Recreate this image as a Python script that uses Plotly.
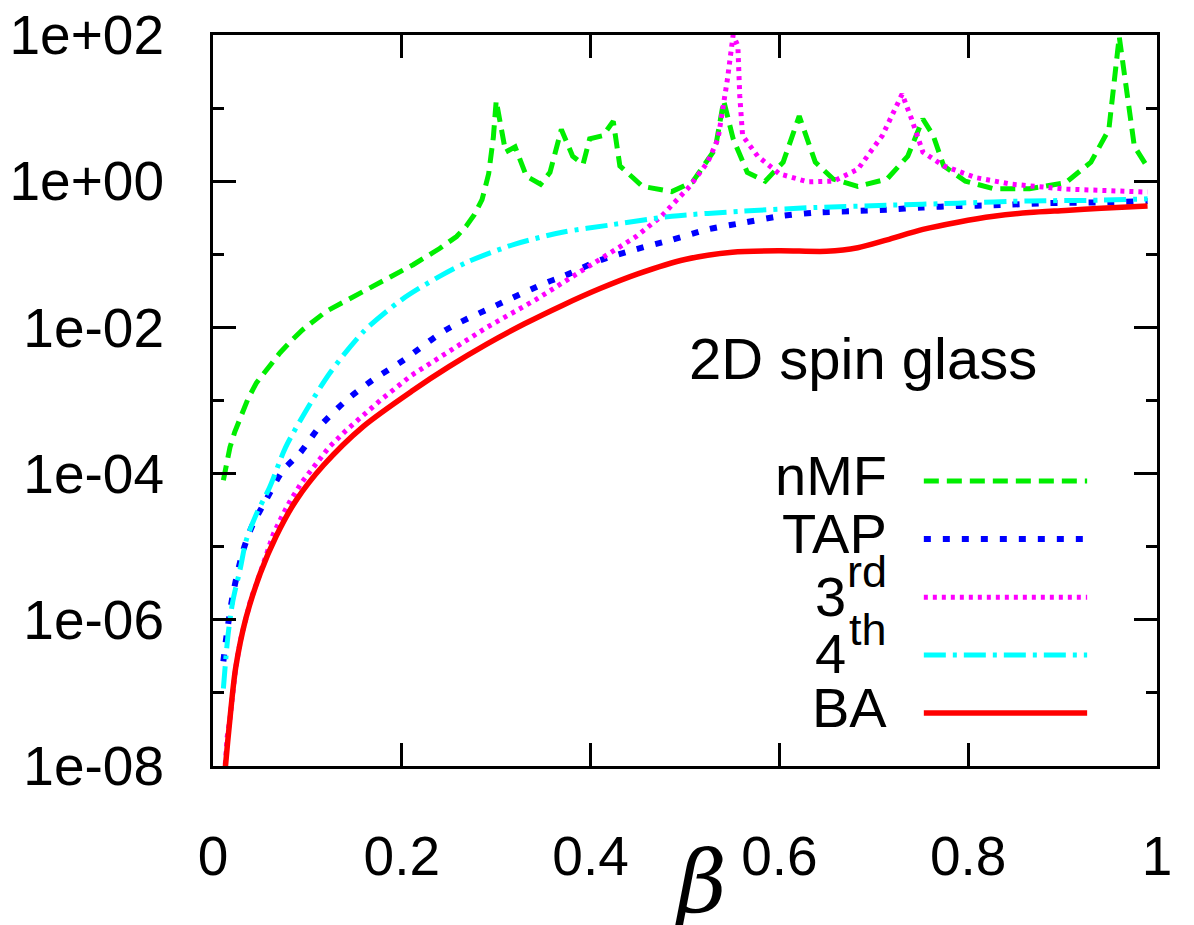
import plotly.graph_objects as go

# ---- data: beta values and the corresponding error measure for each method ----
nmf_beta = [0.011, 0.014, 0.018, 0.023, 0.029, 0.037, 0.046, 0.058, 0.071, 0.083,
            0.095, 0.120, 0.151, 0.180, 0.212, 0.240, 0.258, 0.268, 0.277, 0.285,
            0.292, 0.297, 0.300, 0.310, 0.320, 0.332, 0.347, 0.357, 0.369, 0.381,
            0.392, 0.399, 0.413, 0.424, 0.431, 0.455, 0.486, 0.508, 0.532, 0.541,
            0.551, 0.566, 0.585, 0.604, 0.621, 0.638, 0.657, 0.683, 0.714, 0.736,
            0.752, 0.763, 0.774, 0.797, 0.827, 0.865, 0.903, 0.930, 0.949, 0.960,
            0.968, 0.976, 0.990]
nmf_val = [8.1e-05, 1.4e-04, 2.3e-04, 3.7e-04, 5.9e-04, 1.05e-03, 1.74e-03, 2.8e-03, 4.5e-03, 6.6e-03,
           9.3e-03, 1.66e-02, 2.7e-02, 4.2e-02, 7.2e-02, 1.2e-01, 1.75e-01, 2.4e-01, 3.5e-01, 5.6e-01,
           1.26, 4.0, 12.6, 2.5, 2.95, 1.17, 0.91, 1.32, 5.1, 2.2,
           1.7, 3.8, 4.2, 6.6, 1.62, 0.85, 0.72, 0.98, 2.75, 12.6,
           3.8, 1.32, 1.0, 1.82, 7.8, 1.82, 1.07, 0.85, 1.07, 2.2,
           7.1, 4.2, 1.62, 1.0, 0.79, 0.79, 0.95, 1.82, 5.1, 95.0,
           18.0, 3.0, 1.55]

tap_beta = [0.011, 0.014, 0.021, 0.032, 0.042, 0.056, 0.074, 0.092, 0.113, 0.141,
            0.169, 0.201, 0.247, 0.300, 0.353, 0.371, 0.410, 0.448, 0.486, 0.524,
            0.561, 0.600, 0.638, 0.676, 0.714, 0.752, 0.789, 0.827, 0.884, 0.941, 0.990]
tap_val = [2.7e-07, 5.6e-07, 2.2e-06, 8.9e-06, 2.0e-05, 4.3e-05, 1.1e-04, 1.9e-04, 4.4e-04, 1.0e-03,
           1.9e-03, 3.5e-03, 9.3e-03, 2.0e-02, 4.1e-02, 5.0e-02, 8.3e-02, 0.117, 0.158, 0.219,
           0.269, 0.331, 0.372, 0.389, 0.407, 0.437, 0.457, 0.468, 0.501, 0.513, 0.537]

third_beta = [0.013, 0.015, 0.018, 0.021, 0.024, 0.029, 0.035, 0.040, 0.046, 0.055,
              0.064, 0.073, 0.082, 0.094, 0.106, 0.123, 0.141, 0.160, 0.177, 0.210,
              0.247, 0.290, 0.342, 0.375, 0.410, 0.448, 0.475, 0.505, 0.524, 0.535,
              0.545, 0.551, 0.556, 0.558, 0.561, 0.577, 0.600, 0.630, 0.657, 0.683,
              0.709, 0.730, 0.740, 0.752, 0.774, 0.808, 0.846, 0.903, 0.990]
third_val = [1.05e-08, 2.5e-08, 4.5e-08, 1.05e-07, 2.2e-07, 5.2e-07, 1.07e-06, 1.9e-06, 3.1e-06, 7.2e-06,
             1.5e-05, 2.6e-05, 4.3e-05, 7.6e-05, 1.23e-04, 2.3e-04, 3.9e-04, 6.5e-04, 1.0e-03, 2.2e-03,
             4.5e-03, 1.0e-02, 2.4e-02, 4.4e-02, 8.3e-02, 0.174, 0.331, 0.85, 1.82, 3.8,
             25.0, 100.0, 71.0, 14.8, 4.2, 2.2, 1.26, 0.98, 1.0, 1.45,
             4.2, 15.5, 7.1, 2.5, 1.62, 1.12, 0.91, 0.78, 0.71]

fourth_beta = [0.011, 0.016, 0.021, 0.029, 0.035, 0.046, 0.060, 0.077, 0.099, 0.124,
               0.160, 0.200, 0.240, 0.270, 0.320, 0.370, 0.420, 0.486, 0.561, 0.638,
               0.714, 0.789, 0.865, 0.941, 0.990]
fourth_val = [1.15e-07, 6.3e-07, 1.8e-06, 5.1e-06, 1.2e-05, 2.8e-05, 6.5e-05, 2.3e-04, 7.4e-04, 2.4e-03,
              8.9e-03, 2.4e-02, 5.0e-02, 7.9e-02, 0.138, 0.200, 0.251, 0.331, 0.389, 0.437,
              0.468, 0.501, 0.537, 0.550, 0.575]

ba_beta = [0.011, 0.013, 0.018, 0.024, 0.035, 0.050, 0.067, 0.088, 0.117, 0.159,
           0.212, 0.250, 0.290, 0.330, 0.370, 0.410, 0.450, 0.500, 0.550, 0.600,
           0.650, 0.683, 0.714, 0.752, 0.789, 0.827, 0.865, 0.903, 0.941, 0.990]
ba_val = [4.0e-09, 9.3e-09, 4.5e-08, 2.2e-07, 1.07e-06, 4.3e-06, 1.4e-05, 4.3e-05, 1.3e-04, 4.4e-04,
          1.38e-03, 2.9e-03, 5.9e-03, 1.12e-02, 2.0e-02, 3.4e-02, 5.4e-02, 8.5e-02, 0.107, 0.112,
          0.110, 0.123, 0.158, 0.219, 0.275, 0.331, 0.372, 0.398, 0.427, 0.457]

names = ["nMF", "TAP", "3", "4", "BA"]
name_sups = ["", "", "rd", "th", ""]

series = [
    (nmf_beta, nmf_val, "#00ee00", 5, "15px,8px", "linear"),
    (tap_beta, tap_val, "#0000ff", 6, "7px,12px", "spline"),
    (third_beta, third_val, "#ff00ff", 5, "4px,5px", "linear"),
    (fourth_beta, fourth_val, "#00ffff", 5, "22px,7px,4px,7px", "spline"),
    (ba_beta, ba_val, "#ff0000", 5.5, "solid", "spline"),
]

x_ticks = [0, 0.2, 0.4, 0.6, 0.8, 1]
x_ticktext = ["0", "0.2", "0.4", "0.6", "0.8", "1"]
y_ticks = [1e-8, 1e-6, 1e-4, 1e-2, 1e0, 1e2]
y_ticktext = ["1e-08", "1e-06", "1e-04", "1e-02", "1e+00", "1e+02"]
y_minor = [1e-7, 1e-5, 1e-3, 1e-1, 1e1]

FONT = "Liberation Sans, Arial, sans-serif"

fig = go.Figure()
for name, (xs, ys, color, width, dash, shape) in zip(names, series):
    fig.add_trace(go.Scatter(
        x=xs, y=ys, mode="lines", name=name, showlegend=False,
        line=dict(color=color, width=width, dash=dash, shape=shape,
                  smoothing=0.8 if shape == "spline" else None),
    ))

# key drawn inside the plot: label on the left, line sample on the right
row_y = [0.390, 0.3105, 0.231, 0.152, 0.0725]
for name, sup, (xs, ys, color, width, dash, shape), yy in zip(names, name_sups, series, row_y):
    fig.add_shape(type="line", xref="paper", yref="paper",
                  x0=0.753, x1=0.926, y0=yy, y1=yy,
                  line=dict(color=color, width=width, dash=dash))
    if sup:
        # ordinal suffix set as a raised, slightly smaller label
        fig.add_annotation(xref="paper", yref="paper", x=0.6725, y=yy + 0.0015,
                           xanchor="right", yanchor="middle", text=name, showarrow=False,
                           font=dict(family=FONT, size=56, color="black"))
        fig.add_annotation(xref="paper", yref="paper", x=0.716, y=yy + 0.0345,
                           xanchor="right", yanchor="middle", text=sup, showarrow=False,
                           font=dict(family=FONT, size=45, color="black"))
    else:
        fig.add_annotation(xref="paper", yref="paper", x=0.716, y=yy + 0.008,
                           xanchor="right", yanchor="middle", text=name, showarrow=False,
                           font=dict(family=FONT, size=56, color="black"))

fig.add_annotation(xref="paper", yref="paper", x=0.689, y=0.558,
                   xanchor="center", yanchor="middle", text="2D spin glass",
                   showarrow=False, font=dict(family=FONT, size=58, color="black"))

# axis title (italic beta)
fig.add_annotation(xref="paper", yref="paper", x=0.516, y=-0.087,
                   xanchor="center", yanchor="top", text="β", showarrow=False,
                   font=dict(family="DejaVu Serif, serif", size=86, color="black",
                             style="italic"))

axis_common = dict(showline=True, linewidth=3, linecolor="black", mirror="ticks",
                   ticks="inside", ticklen=23, tickwidth=3, tickcolor="black",
                   showgrid=False, zeroline=False, automargin=False,
                   tickfont=dict(family=FONT, size=55, color="black"))

fig.update_xaxes(range=[0, 1], tickmode="array", tickvals=x_ticks, ticktext=x_ticktext,
                 ticklabelstandoff=40, **axis_common)
fig.update_yaxes(type="log", range=[-8, 2], tickmode="array", tickvals=y_ticks,
                 ticktext=y_ticktext, ticklabelstandoff=35,
                 minor=dict(tickmode="array", tickvals=y_minor, ticks="inside",
                            ticklen=11, tickwidth=3, tickcolor="black", showgrid=False),
                 **axis_common)

fig.update_layout(width=1194, height=925, plot_bgcolor="white", paper_bgcolor="white",
                  margin=dict(l=213, r=37, t=35, b=159))

fig.write_html("out.html")
